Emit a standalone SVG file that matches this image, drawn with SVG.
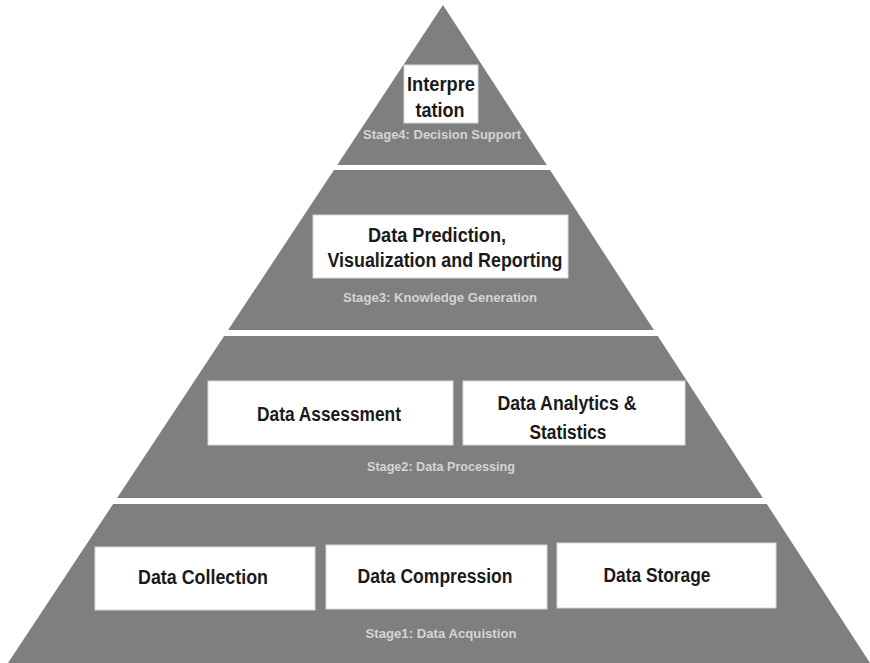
<svg xmlns="http://www.w3.org/2000/svg" width="870" height="663" viewBox="0 0 870 663">
<style>
.box{fill:#ffffff;stroke:#d8d8d8;stroke-width:1}
.lbl{font-family:"Liberation Sans",Arial,sans-serif;font-weight:bold;font-size:19.5px;fill:#1a1a1a;text-anchor:middle}
.stage{font-family:"Liberation Sans",Arial,sans-serif;font-weight:bold;font-size:12px;fill:#d4d4d4;text-anchor:middle}
.gap{fill:#ffffff}
</style>
<rect width="870" height="663" fill="#ffffff"/>
<g id="pyramid">
<polygon points="443,5 870,663 8,663" fill="#7f7f7f"/>
<rect class="gap" x="0" y="165" width="870" height="5"/>
<rect class="gap" x="0" y="330" width="870" height="6"/>
<rect class="gap" x="0" y="498" width="870" height="6"/>
</g>
<g id="stage4">
<rect class="box" x="404" y="65" width="74" height="58"/>
<text class="lbl" x="441" y="91" font-size="21" textLength="68" lengthAdjust="spacingAndGlyphs">Interpre</text>
<text class="lbl" x="440" y="117" font-size="21" textLength="49" lengthAdjust="spacingAndGlyphs">tation</text>
<text class="stage" x="442" y="139" textLength="158" lengthAdjust="spacingAndGlyphs">Stage4: Decision Support</text>
</g>
<g id="stage3">
<rect class="box" x="313" y="215" width="255" height="63"/>
<text class="lbl" x="437" y="242" textLength="138" lengthAdjust="spacingAndGlyphs">Data Prediction,</text>
<text class="lbl" x="445" y="267" textLength="235" lengthAdjust="spacingAndGlyphs">Visualization and Reporting</text>
<text class="stage" x="440" y="302" textLength="194" lengthAdjust="spacingAndGlyphs">Stage3: Knowledge Generation</text>
</g>
<g id="stage2">
<g id="assessment">
<rect class="box" x="208" y="381" width="245" height="64"/>
<text class="lbl" x="329" y="421" textLength="144" lengthAdjust="spacingAndGlyphs">Data Assessment</text>
</g>
<g id="analytics">
<rect class="box" x="463" y="381" width="222" height="64"/>
<text class="lbl" x="567" y="410" textLength="139" lengthAdjust="spacingAndGlyphs">Data Analytics &amp;</text>
<text class="lbl" x="568" y="439" textLength="77" lengthAdjust="spacingAndGlyphs">Statistics</text>
</g>
<text class="stage" x="441" y="471" textLength="148" lengthAdjust="spacingAndGlyphs">Stage2: Data Processing</text>
</g>
<g id="stage1">
<g id="collection">
<rect class="box" x="95" y="547" width="220" height="63"/>
<text class="lbl" x="203" y="584" textLength="130" lengthAdjust="spacingAndGlyphs">Data Collection</text>
</g>
<g id="compression">
<rect class="box" x="326" y="545" width="221" height="64"/>
<text class="lbl" x="435" y="583" textLength="155" lengthAdjust="spacingAndGlyphs">Data Compression</text>
</g>
<g id="storage">
<rect class="box" x="557" y="543" width="219" height="65"/>
<text class="lbl" x="657" y="582" textLength="107" lengthAdjust="spacingAndGlyphs">Data Storage</text>
</g>
<text class="stage" x="441" y="638" textLength="151" lengthAdjust="spacingAndGlyphs">Stage1: Data Acquistion</text>
</g>
</svg>
